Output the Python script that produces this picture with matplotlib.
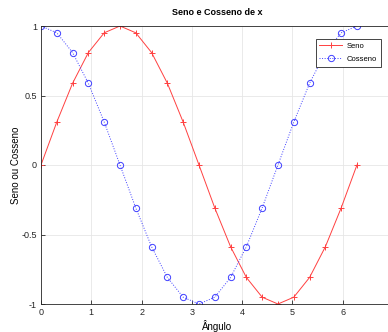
import matplotlib
matplotlib.use("Agg")
import matplotlib.pyplot as plt

plt.rcParams['font.family'] = ['Liberation Sans', 'DejaVu Sans']

# angulos de 0 a 2*pi em passos de pi/10
angulos = [0.0, 0.314, 0.628, 0.942, 1.257, 1.571, 1.885, 2.199, 2.513, 2.827, 3.142,
           3.456, 3.770, 4.084, 4.398, 4.712, 5.027, 5.341, 5.655, 5.969, 6.283]
seno = [0.0, 0.309, 0.588, 0.809, 0.951, 1.0, 0.951, 0.809, 0.588, 0.309, 0.0,
        -0.309, -0.588, -0.809, -0.951, -1.0, -0.951, -0.809, -0.588, -0.309, 0.0]
cosseno = [1.0, 0.951, 0.809, 0.588, 0.309, 0.0, -0.309, -0.588, -0.809, -0.951, -1.0,
           -0.951, -0.809, -0.588, -0.309, 0.0, 0.309, 0.588, 0.809, 0.951, 1.0]
xticks = [0, 1, 2, 3, 4, 5, 6]
yticks = [-1, -0.5, 0, 0.5, 1]
yticklabels = ["-1", "-0.5", "0", "0.5", "1"]

fig = plt.figure(figsize=(3.88, 3.32), dpi=100)
ax = fig.add_axes([41 / 388, 28 / 332, 352 / 388, 278 / 332])

ax.plot(angulos, seno, color="#ff4040", lw=0.7, marker="+", ms=5, mew=0.7, label="Seno")
ax.plot(angulos, cosseno, color="#4040ff", lw=0.7, ls=":", marker="o", ms=4.5,
        mfc="none", mew=0.7, label="Cosseno")

ax.set_xlim(0, 7)
ax.set_ylim(-1, 1)
ax.set_xticks(xticks)
ax.set_yticks(yticks)
ax.set_yticklabels(yticklabels)
ax.tick_params(labelsize=6.5, length=3, width=0.6, direction="in", colors="#262626", pad=3)
ax.grid(True, color="#e6e6e6", lw=0.6)
for s in ax.spines.values():
    s.set_color("#262626")
    s.set_linewidth(0.6)

ax.set_title("Seno e Cosseno de x", fontsize=6.5, fontweight="bold", pad=8)
ax.set_xlabel("Ângulo", fontsize=7, labelpad=2)
ax.set_ylabel("Seno ou Cosseno", fontsize=7, labelpad=0)

leg = ax.legend(loc="upper right", bbox_to_anchor=(340 / 352, 265 / 278), borderaxespad=0,
                fontsize=5.5, fancybox=False, framealpha=1, edgecolor="#262626",
                handlelength=3.0, borderpad=0.5, labelspacing=0.7, handletextpad=0.6)
leg.get_frame().set_linewidth(0.6)

fig.savefig("out.png", dpi=100)
